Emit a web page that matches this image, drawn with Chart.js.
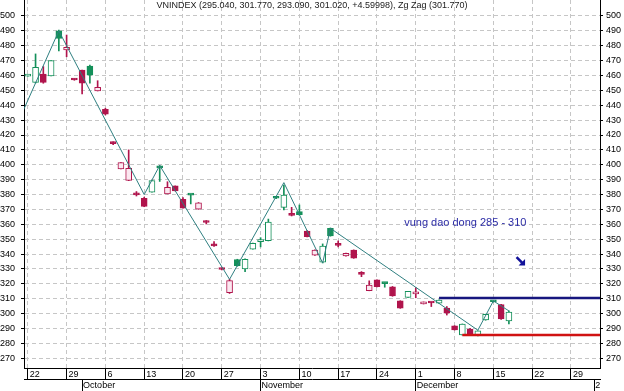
<!DOCTYPE html>
<html>
<head>
<meta charset="utf-8">
<title>VNINDEX</title>
<script src="https://cdn.jsdelivr.net/npm/chart.js@4/dist/chart.umd.min.js"></script>
<style>
  html, body { margin: 0; padding: 0; background: #fff; }
</style>
</head>
<body>
<canvas id="vnChart" width="624" height="391"></canvas>
<script>
// daily candles, day 0 = Mon 22 Sep 2008, 5 trading days a week
var opens  = [459.6, 455.4, 461, 459.7, 490, 477.2, 457.6, 463.7, 466.4, 449.6,
              437.3, 414.8, 397.2, 389.5, 380.4, 377.5, 381.5, 399.3, 380.4, 385.8,
              376.8, 379.9, 370.2, 361.8, 346.8, 330.1, 314, 336.3, 330, 343.3,
              348.3, 349, 377.8, 371.4, 366.8, 368.5, 355.5, 339.2, 334.5, 357.3,
              346.4, 338.7, 342.7, 326.9, 315.4, 322.6, 320.5, 318, 308.5, 310.9,
              313.2, 306.5, 307.5, 306.9, 303.6, 291.7, 285.6, 289.6, 285.2, 295.7,
              308.3, 306, 295.04];
var highs  = [460.5, 474.5, 466, 470, 490.5, 487.2, 457.8, 463.7, 467, 456.5,
              438, 415.5, 401.4, 410, 382, 378.2, 389.3, 399.5, 388.6, 385.8,
              378, 380, 374.6, 362.5, 348.3, 330.6, 323, 336.5, 336.7, 347.3,
              351, 363.5, 378.2, 386.4, 371.4, 373, 355.8, 342.8, 346.8, 357.5,
              348.8, 340.6, 342.8, 328.2, 322, 322.7, 320.6, 318.2, 308.6, 315,
              317.4, 307.8, 307.6, 309.2, 304.7, 291.8, 293, 290, 288.4, 299.6,
              308.6, 306.2, 301.77];
var lows   = [459.5, 455, 454.8, 459.7, 476.5, 472.6, 456.8, 447.6, 454.8, 449.6,
              433.5, 413.5, 397.2, 389.3, 379, 371.8, 381.5, 388.8, 380.4, 382.4,
              370.8, 373.7, 370.1, 360.2, 345.2, 329.3, 313.5, 331.8, 328.2, 343.2,
              344.8, 348.8, 377.2, 369.6, 365.6, 366.2, 351.5, 339, 334, 352,
              344.8, 338.6, 337.1, 324.8, 315.3, 317.9, 317.7, 311.6, 303.5, 310.8,
              310.6, 306.4, 304.7, 306.8, 299, 288.9, 285.5, 285.5, 285, 295.5,
              307.6, 296, 293.09];
var closes = [460.2, 465.5, 455.4, 470, 485, 479, 457, 454.8, 460.3, 452,
              434, 414.2, 401.4, 397.6, 379.8, 372, 389.3, 397.8, 384.8, 382.5,
              370.9, 379.6, 374.5, 361.2, 345.4, 329.6, 322.1, 332.2, 336.5, 347.2,
              348.9, 361.4, 377.5, 379.7, 366.0, 366.5, 351.7, 342.7, 345.4, 352.2,
              345.8, 340.5, 337.2, 326.3, 319.2, 318, 320.1, 311.8, 303.6, 314.9,
              314.6, 307.6, 307.1, 309.1, 300.2, 289, 292.9, 285.6, 288.3, 299.5,
              307.9, 296.42, 301.02];

// zig zag turning points
var zigDays   = [-1, 4, 15, 17, 26, 33, 38, 39, 58, 60, 62];
var zigValues = [431.6, 490, 380, 399.5, 323, 388, 334, 357.3, 288.8, 308.5, 301.77];

// band lines drawn on the chart
var resistDays = [53, 75];
var resistValues = [310.5, 310.5];
var supportDays = [56, 75];
var supportValues = [285.5, 285.5];

// axes
var weekTicks  = [0, 5, 10, 15, 20, 25, 30, 35, 40, 45, 50, 55, 60, 65, 70];
var weekLabels = ["22", "29", "6", "13", "20", "27", "3", "10", "17", "24", "1", "8", "15", "22", "29"];
var monthTicks  = [7, 30, 50, 73];
var monthLabels = ["October", "November", "December", "2"];
var yTicks = [270, 280, 290, 300, 310, 320, 330, 340, 350, 360, 370, 380,
              390, 400, 410, 420, 430, 440, 450, 460, 470, 480, 490, 500];

var titleText = "VNINDEX (295.040, 301.770, 293.090, 301.020, +4.59998), Zg Zag (301.770)";
var noteText = "vung dao dong 285 - 310";

var GREEN = "#14905a";
var RED = "#b0144c";
var FONT = "'Liberation Sans', Arial, sans-serif";

function candleColor(i) {
  if (i === 0) return GREEN;
  return closes[i] >= closes[i - 1] ? GREEN : RED;
}
function candleFill(i) {
  var col = candleColor(i);
  if (closes[i] > opens[i]) return col === GREEN ? "#ffffff" : "#fbe8f0"; // hollow
  return col;
}

var bodies = [], wicks = [], colors = [], fills = [];
for (var i = 0; i < opens.length; i++) {
  bodies.push({ x: i, y: [opens[i], closes[i]] });
  wicks.push({ x: i, y: [lows[i], highs[i]] });
  colors.push(candleColor(i));
  fills.push(candleFill(i));
}
function pairs(xs, ys) {
  return xs.map(function (x, k) { return { x: x, y: ys[k] }; });
}

function setTicks(list) {
  return function (scale) {
    scale.ticks = list.map(function (v) { return { value: v }; });
  };
}
function fixHeight(h) {
  return function (scale) { scale.height = h; scale.paddingLeft = 0; scale.paddingRight = 0; };
}
function fixWidth(w) {
  return function (scale) { scale.width = w; scale.paddingTop = 0; scale.paddingBottom = 0; };
}

//title, note text and arrow
var extras = {
  id: "extras",
  afterDraw: function (chart) {
    var c = chart.ctx, xs = chart.scales.x, ys = chart.scales.y;
    c.save();
    c.font = "9px " + FONT;
    c.fillStyle = "#1a1a1a";
    c.textAlign = "center";
    c.textBaseline = "middle";
    c.fillText(titleText, chart.width / 2, 6);

    c.font = "11px " + FONT;
    c.fillStyle = "#2c2ca6";
    c.textAlign = "left";
    c.fillText(noteText, xs.getPixelForValue(48.5), ys.getPixelForValue(360.7));

    var ax = xs.getPixelForValue(63.5), ay = ys.getPixelForValue(335.3);
    c.strokeStyle = "#12129a";
    c.fillStyle = "#12129a";
    c.lineWidth = 2.5;
    c.beginPath();
    c.moveTo(ax - 4, ay - 4);
    c.lineTo(ax + 1.5, ay + 1.5);
    c.stroke();
    c.beginPath();
    c.moveTo(ax + 4.5, ay + 4.5);
    c.lineTo(ax + 4.5, ay - 2);
    c.lineTo(ax - 2, ay + 4.5);
    c.closePath();
    c.fill();
    c.restore();
  }
};

Chart.defaults.font.family = FONT;
Chart.defaults.font.size = 9;
Chart.defaults.color = "#000";

var ctx = document.getElementById("vnChart").getContext("2d");
var vnChart = new Chart(ctx, {
  type: "bar",
  data: {
    datasets: [
      { type: "line", data: pairs(zigDays, zigValues), borderColor: "#2f7f80", borderWidth: 1,
        pointRadius: 0, tension: 0, clip: 0, order: 0, xAxisID: "x", yAxisID: "y" },
      { type: "line", data: pairs(resistDays, resistValues), borderColor: "#16167e", borderWidth: 2.5,
        pointRadius: 0, clip: 0, order: 0, xAxisID: "x", yAxisID: "y" },
      { type: "line", data: pairs(supportDays, supportValues), borderColor: "#d01212", borderWidth: 2.5,
        pointRadius: 0, clip: 0, order: 0, xAxisID: "x", yAxisID: "y" },
      { data: bodies, backgroundColor: fills, borderColor: colors, borderWidth: 1,
        borderSkipped: false, barThickness: 6, minBarLength: 2, grouped: false,
        order: 1, xAxisID: "x", yAxisID: "y" },
      { data: wicks, backgroundColor: colors, borderWidth: 0, barThickness: 1,
        grouped: false, order: 2, xAxisID: "x", yAxisID: "y" }
    ]
  },
  options: {
    responsive: false,
    animation: false,
    layout: { padding: 0 },
    plugins: { legend: { display: false }, tooltip: { enabled: false } },
    scales: {
      x: {
        type: "linear", position: "bottom", weight: 0,
        min: -0.49, max: 73.74, offset: false,
        afterBuildTicks: setTicks(weekTicks),
        afterFit: fixHeight(11),
        grid: { color: "#c6c6c6", tickColor: "#000", tickLength: 11, tickBorderDash: [], offset: false },
        border: { color: "#000", dash: [4, 3] },
        ticks: { align: "start", labelOffset: 2, padding: -10, maxRotation: 0, autoSkip: false,
          callback: function (v, i) { return weekLabels[i]; } }
      },
      x2: {
        type: "linear", position: "bottom", weight: 1,
        min: -0.49, max: 73.74, offset: false,
        afterBuildTicks: setTicks(monthTicks),
        afterFit: fixHeight(12),
        grid: { drawOnChartArea: false, color: "#000", tickLength: 12, offset: false },
        border: { color: "#000" },
        ticks: { align: "start", labelOffset: 1, padding: -11, maxRotation: 0, autoSkip: false,
          callback: function (v, i) { return monthLabels[i]; } }
      },
      y: {
        position: "left", min: 263.4, max: 510.75,
        afterBuildTicks: setTicks(yTicks),
        afterFit: fixWidth(24),
        grid: { color: "#c6c6c6", tickColor: "#000", tickLength: 3, tickBorderDash: [] },
        border: { color: "#000", dash: [4, 3] },
        ticks: { padding: 6 }
      },
      y2: {
        position: "right", min: 263.4, max: 510.75,
        afterBuildTicks: setTicks(yTicks),
        afterFit: fixWidth(24),
        grid: { drawOnChartArea: false, color: "#000", tickLength: 3 },
        border: { color: "#000" },
        ticks: { padding: 3 }
      }
    }
  },
  plugins: [extras]
});
</script>
</body>
</html>
